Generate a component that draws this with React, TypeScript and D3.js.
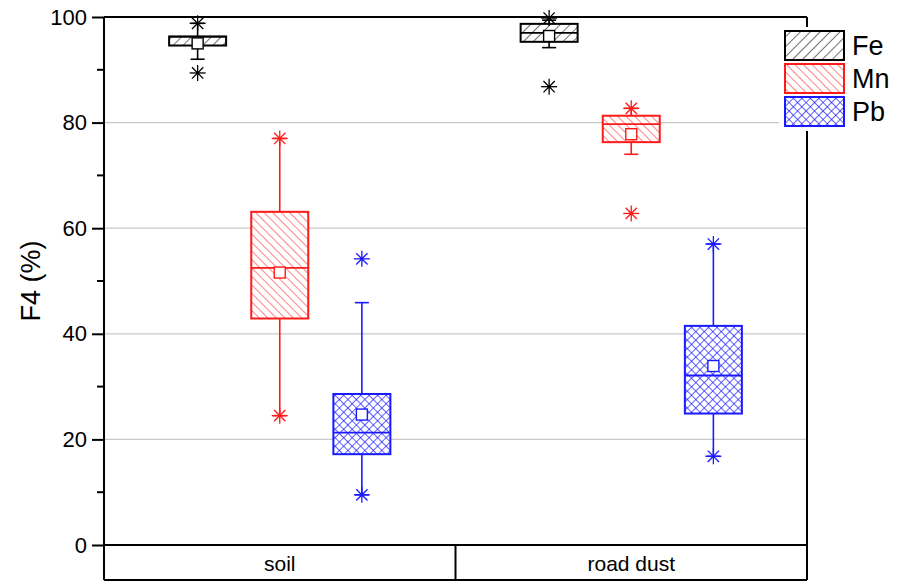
import React, { useEffect, useRef } from "react";
import * as d3 from "d3";

type BoxStat = {
  min: number;
  lo: number;
  q1: number;
  med: number;
  q3: number;
  mean: number;
  hi: number;
  max: number;
};

const categories = ["soil", "road dust"];
const elements = ["Fe", "Mn", "Pb"];

// one entry per category (soil, road dust)
const feStats: BoxStat[] = [
  { min: 89.4, lo: 92.0, q1: 94.6, med: 96.3, q3: 96.3, mean: 95.0, hi: 98.8, max: 98.8 },
  { min: 86.8, lo: 94.2, q1: 95.3, med: 97.0, q3: 98.7, mean: 96.4, hi: 99.4, max: 99.8 },
];
const mnStats: BoxStat[] = [
  { min: 24.5, lo: 24.5, q1: 42.9, med: 52.5, q3: 63.1, mean: 51.6, hi: 77.0, max: 77.0 },
  { min: 62.8, lo: 74.0, q1: 76.3, med: 79.7, q3: 81.3, mean: 77.8, hi: 82.7, max: 82.7 },
];
const pbStats: BoxStat[] = [
  { min: 9.5, lo: 9.5, q1: 17.2, med: 21.3, q3: 28.6, mean: 24.7, hi: 45.9, max: 54.2 },
  { min: 16.8, lo: 16.8, q1: 24.9, med: 32.1, q3: 41.5, mean: 33.9, hi: 57.0, max: 57.0 },
];
const yTicks = [0, 20, 40, 60, 80, 100];
const yMinorTicks = [10, 30, 50, 70, 90];

const series = [feStats, mnStats, pbStats];
const colors: Record<string, string> = { Fe: "#000000", Mn: "#ff1a1a", Pb: "#1a1aff" };
const FONT = "'Liberation Sans', Arial, sans-serif";

const Chart: React.FC = () => {
  const svgRef = useRef<SVGSVGElement | null>(null);

  useEffect(() => {
    if (!svgRef.current) return;
    const width = 901;
    const height = 582;
    const svg = d3.select(svgRef.current);
    svg.selectAll("*").remove();
    svg.attr("width", width).attr("height", height);

    const left = 104, right = 807, top = 17, bottom = 545, band = 580;

    const x = d3.scaleBand().domain(categories).range([left, right]).padding(0);
    const xi = d3.scalePoint().domain(elements).range([0, x.bandwidth()]).padding(1.14);
    const y = d3.scaleLinear().domain([0, 100]).range([bottom, top]);
    const boxW = 57;

    // patterns
    const defs = svg.append("defs");
    const fe = defs.append("pattern").attr("id", "pat-Fe").attr("patternUnits", "userSpaceOnUse")
      .attr("width", 7).attr("height", 7).attr("patternTransform", "rotate(45)");
    fe.append("line").attr("x1", 0).attr("y1", 0).attr("x2", 0).attr("y2", 7)
      .attr("stroke", colors.Fe).attr("stroke-width", 1.1);
    const mn = defs.append("pattern").attr("id", "pat-Mn").attr("patternUnits", "userSpaceOnUse")
      .attr("width", 6).attr("height", 6).attr("patternTransform", "rotate(-45)");
    mn.append("line").attr("x1", 0).attr("y1", 0).attr("x2", 0).attr("y2", 6)
      .attr("stroke", colors.Mn).attr("stroke-width", 1.1);
    const pb = defs.append("pattern").attr("id", "pat-Pb").attr("patternUnits", "userSpaceOnUse")
      .attr("width", 6).attr("height", 6).attr("patternTransform", "rotate(45)");
    pb.append("line").attr("x1", 0).attr("y1", 0).attr("x2", 0).attr("y2", 6)
      .attr("stroke", colors.Pb).attr("stroke-width", 1.4);
    pb.append("line").attr("x1", 0).attr("y1", 0).attr("x2", 6).attr("y2", 0)
      .attr("stroke", colors.Pb).attr("stroke-width", 1.4);

    // grid
    svg.append("g").selectAll("line").data(yTicks.filter(t => t > 0 && t < 100)).enter().append("line")
      .attr("x1", left).attr("x2", right).attr("y1", d => y(d)).attr("y2", d => y(d))
      .attr("stroke", "#c8c8c8").attr("stroke-width", 1.2);

    const star = (g: d3.Selection<SVGGElement, unknown, null, undefined>, cx: number, cy: number, color: string) => {
      const r = 8;
      [0, 45, 90, 135].forEach(a => {
        const rad = (a * Math.PI) / 180;
        g.append("line")
          .attr("x1", cx - r * Math.cos(rad)).attr("y1", cy - r * Math.sin(rad))
          .attr("x2", cx + r * Math.cos(rad)).attr("y2", cy + r * Math.sin(rad))
          .attr("stroke", color).attr("stroke-width", 1.3);
      });
      g.append("circle").attr("cx", cx).attr("cy", cy).attr("r", 1.8).attr("fill", color);
    };

    // boxes
    elements.forEach((el, ei) => {
      const color = colors[el];
      series[ei].forEach((s, ci) => {
        const cx = (x(categories[ci]) ?? 0) + (xi(el) ?? 0);
        const g = svg.append("g");
        // whiskers
        g.append("line").attr("x1", cx).attr("x2", cx).attr("y1", y(s.q3)).attr("y2", y(s.hi))
          .attr("stroke", color).attr("stroke-width", 1.6);
        g.append("line").attr("x1", cx).attr("x2", cx).attr("y1", y(s.q1)).attr("y2", y(s.lo))
          .attr("stroke", color).attr("stroke-width", 1.6);
        [s.hi, s.lo].forEach(v => {
          g.append("line").attr("x1", cx - 7).attr("x2", cx + 7).attr("y1", y(v)).attr("y2", y(v))
            .attr("stroke", color).attr("stroke-width", 1.6);
        });
        // box
        g.append("rect").attr("x", cx - boxW / 2).attr("y", y(s.q3))
          .attr("width", boxW).attr("height", y(s.q1) - y(s.q3))
          .attr("fill", "white").attr("stroke", "none");
        g.append("rect").attr("x", cx - boxW / 2).attr("y", y(s.q3))
          .attr("width", boxW).attr("height", y(s.q1) - y(s.q3))
          .attr("fill", `url(#pat-${el})`).attr("stroke", color).attr("stroke-width", 2);
        g.append("line").attr("x1", cx - boxW / 2).attr("x2", cx + boxW / 2)
          .attr("y1", y(s.med)).attr("y2", y(s.med)).attr("stroke", color).attr("stroke-width", 1.8);
        // mean
        g.append("rect").attr("x", cx - 5.5).attr("y", y(s.mean) - 5.5).attr("width", 11).attr("height", 11)
          .attr("fill", "white").attr("stroke", color).attr("stroke-width", 1.4);
        // min / max
        star(g, cx, y(s.max), color);
        star(g, cx, y(s.min), color);
      });
    });

    // frame and axis
    const frame = svg.append("g").attr("stroke", "#000").attr("stroke-width", 2).attr("fill", "none");
    frame.append("line").attr("x1", left).attr("x2", right).attr("y1", top).attr("y2", top);
    frame.append("line").attr("x1", left).attr("x2", left).attr("y1", top).attr("y2", band);
    frame.append("line").attr("x1", right).attr("x2", right).attr("y1", top).attr("y2", band);
    frame.append("line").attr("x1", left).attr("x2", right).attr("y1", bottom).attr("y2", bottom);
    frame.append("line").attr("x1", left).attr("x2", right).attr("y1", band).attr("y2", band);
    frame.append("line").attr("x1", x.step() + left).attr("x2", x.step() + left).attr("y1", bottom).attr("y2", band);

    const yAxis = svg.append("g").attr("transform", `translate(${left},0)`)
      .call(d3.axisLeft(y).tickValues(yTicks).tickSize(12).tickPadding(5).tickFormat(d3.format("d")));
    yAxis.select(".domain").remove();
    yAxis.selectAll(".tick line").attr("stroke-width", 2);
    yAxis.selectAll(".tick text").attr("font-family", FONT).attr("font-size", 22).attr("fill", "#000");
    svg.append("g").selectAll("line").data(yMinorTicks).enter().append("line")
      .attr("x1", left - 7).attr("x2", left).attr("y1", d => y(d)).attr("y2", d => y(d))
      .attr("stroke", "#000").attr("stroke-width", 2);

    svg.append("text").attr("transform", `translate(40,${(top + bottom) / 2}) rotate(-90)`)
      .attr("text-anchor", "middle").attr("font-family", FONT).attr("font-size", 27).text("F4 (%)");

    svg.append("g").selectAll("text").data(categories).enter().append("text")
      .attr("x", d => (x(d) ?? 0) + x.bandwidth() / 2).attr("y", 571)
      .attr("text-anchor", "middle").attr("font-family", FONT).attr("font-size", 21).text(d => d);

    // legend
    const lg = svg.append("g");
    lg.append("rect").attr("x", 779).attr("y", 27).attr("width", 122).attr("height", 104).attr("fill", "white");
    elements.forEach((el, i) => {
      const ly = 31 + i * 33;
      lg.append("rect").attr("x", 785).attr("y", ly).attr("width", 59).attr("height", 29)
        .attr("fill", `url(#pat-${el})`).attr("stroke", colors[el]).attr("stroke-width", 2);
      lg.append("text").attr("x", 852).attr("y", ly + 24).attr("font-family", FONT)
        .attr("font-size", 27).text(el);
    });
  }, []);

  return <svg ref={svgRef} style={{ position: "absolute", left: 0, top: 0 }}></svg>;
};

export default function App() {
  return <Chart />;
}
